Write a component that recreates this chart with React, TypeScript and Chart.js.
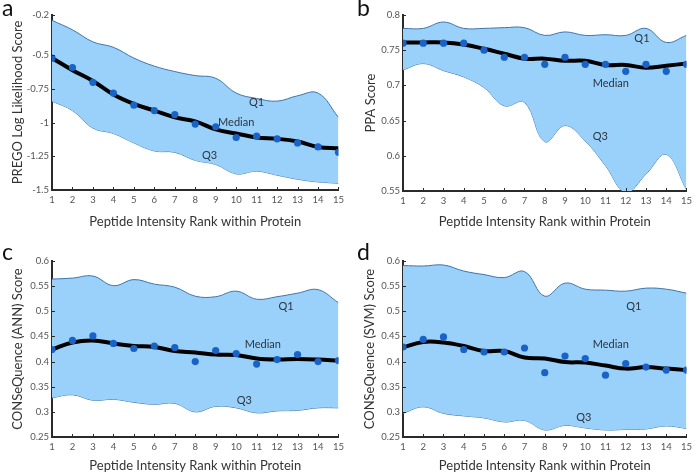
import React, { useEffect, useRef } from "react";
import { Chart, registerables } from "chart.js";
Chart.register(...registerables);

const ranks = [1, 2, 3, 4, 5, 6, 7, 8, 9, 10, 11, 12, 13, 14, 15];

// Panel a: PREGO
const pregoQ1 = [-0.24, -0.31, -0.4, -0.44, -0.52, -0.58, -0.62, -0.65, -0.67, -0.78, -0.82, -0.84, -0.8, -0.78, -0.96];
const pregoQ3 = [-0.84, -0.91, -1.04, -1.08, -1.15, -1.21, -1.22, -1.28, -1.31, -1.38, -1.36, -1.39, -1.42, -1.44, -1.45];
const pregoMedianFit = [-0.52, -0.61, -0.69, -0.79, -0.86, -0.91, -0.96, -0.99, -1.05, -1.08, -1.11, -1.12, -1.14, -1.18, -1.19];
const pregoMedian = [-0.52, -0.59, -0.7, -0.78, -0.87, -0.91, -0.94, -1.01, -1.03, -1.11, -1.1, -1.12, -1.15, -1.18, -1.22];
const pregoTicks = [-0.2, -0.5, -0.75, -1, -1.25, -1.5];

// Panel b: PPA
const ppaQ1 = [0.781, 0.781, 0.79, 0.781, 0.781, 0.782, 0.782, 0.771, 0.776, 0.771, 0.772, 0.771, 0.781, 0.761, 0.771];
const ppaQ3 = [0.722, 0.731, 0.721, 0.712, 0.697, 0.671, 0.676, 0.62, 0.643, 0.621, 0.586, 0.548, 0.574, 0.602, 0.552];
const ppaMedianFit = [0.761, 0.761, 0.761, 0.758, 0.752, 0.745, 0.738, 0.738, 0.735, 0.735, 0.729, 0.729, 0.725, 0.728, 0.731];
const ppaMedian = [0.76, 0.76, 0.76, 0.76, 0.75, 0.74, 0.74, 0.73, 0.74, 0.73, 0.73, 0.72, 0.73, 0.72, 0.73];
const ppaTicks = [0.55, 0.6, 0.65, 0.7, 0.75, 0.8];

// Panel c: CONSeQuence (ANN)
const annQ1 = [0.564, 0.566, 0.57, 0.551, 0.563, 0.554, 0.548, 0.53, 0.529, 0.54, 0.524, 0.529, 0.536, 0.543, 0.517];
const annQ3 = [0.328, 0.334, 0.323, 0.325, 0.319, 0.315, 0.317, 0.3, 0.311, 0.308, 0.298, 0.302, 0.303, 0.308, 0.308];
const annMedianFit = [0.424, 0.438, 0.442, 0.436, 0.431, 0.429, 0.421, 0.418, 0.414, 0.413, 0.406, 0.404, 0.405, 0.404, 0.402];
const annMedian = [0.424, 0.442, 0.451, 0.436, 0.426, 0.431, 0.428, 0.4, 0.422, 0.416, 0.395, 0.404, 0.414, 0.4, 0.402];
const consTicks = [0.25, 0.3, 0.35, 0.4, 0.45, 0.5, 0.55, 0.6];

// Panel d: CONSeQuence (SVM)
const svmQ1 = [0.591, 0.59, 0.592, 0.58, 0.573, 0.567, 0.579, 0.53, 0.556, 0.544, 0.542, 0.54, 0.546, 0.544, 0.536];
const svmQ3 = [0.297, 0.31, 0.297, 0.292, 0.288, 0.28, 0.283, 0.264, 0.273, 0.268, 0.264, 0.265, 0.266, 0.272, 0.267];
const svmMedianFit = [0.428, 0.439, 0.438, 0.431, 0.421, 0.421, 0.408, 0.406, 0.399, 0.398, 0.392, 0.386, 0.389, 0.386, 0.383];
const svmMedian = [0.429, 0.444, 0.449, 0.424, 0.419, 0.419, 0.427, 0.378, 0.411, 0.406, 0.373, 0.396, 0.389, 0.383, 0.383];

const FONT = "Lato, 'Open Sans', sans-serif";
const BAND_FILL = "#99d1fa";
const BAND_LINE = "#3f75aa";
const DOT = "#1a63c6";

const toPts = (ys: number[]) => ranks.map((x, i) => ({ x, y: ys[i] }));

const labelPlugin = {
  id: "bandLabels",
  afterDatasetsDraw(chart: any, _args: any, opts: any) {
    const { ctx, scales } = chart;
    ctx.save();
    ctx.font = `11px ${FONT}`;
    ctx.fillStyle = "#2b3440";
    ctx.textAlign = "center";
    ctx.textBaseline = "middle";
    (opts.items || []).forEach((it: any) => {
      ctx.fillText(it.text, scales.x.getPixelForValue(it.x), scales.y.getPixelForValue(it.y));
    });
    ctx.restore();
  },
};

const innerTicks = {
  id: "innerTicks",
  afterDraw(chart: any) {
    const { ctx, scales, chartArea } = chart;
    ctx.save();
    ctx.strokeStyle = "#2a2a2a";
    ctx.lineWidth = 1;
    ctx.beginPath();
    scales.x.ticks.forEach((t: any) => {
      const px = Math.round(scales.x.getPixelForValue(t.value)) + 0.5;
      ctx.moveTo(px, chartArea.bottom);
      ctx.lineTo(px, chartArea.bottom - 3);
    });
    scales.y.ticks.forEach((t: any) => {
      const py = Math.round(scales.y.getPixelForValue(t.value)) + 0.5;
      ctx.moveTo(chartArea.left, py);
      ctx.lineTo(chartArea.left + 3, py);
    });
    ctx.stroke();
    ctx.restore();
  },
};

type PanelDef = {
  letter: string;
  left: number;
  top: number;
  width: number;
  height: number;
  padTop: number;
  padRight: number;
  yWidth: number;
  xHeight: number;
  yTitlePad: number;
  xTitlePad: number;
  yMin: number;
  yMax: number;
  yTicks: number[];
  yTitle: string;
  q1: number[];
  q3: number[];
  medFit: number[];
  med: number[];
  labels: { text: string; x: number; y: number }[];
};

const panels: PanelDef[] = [
  {
    letter: "a", left: 0, top: 0, width: 348, height: 236, padTop: 15, padRight: 8, yWidth: 52, xHeight: 46,
    yTitlePad: 10, xTitlePad: 6, yMin: -1.5, yMax: -0.2, yTicks: pregoTicks, yTitle: "PREGO Log Likelihood Score",
    q1: pregoQ1, q3: pregoQ3, medFit: pregoMedianFit, med: pregoMedian,
    labels: [
      { text: "Q1", x: 11, y: -0.85 },
      { text: "Median", x: 10, y: -1.0 },
      { text: "Q3", x: 8.7, y: -1.24 },
    ],
  },
  {
    letter: "b", left: 348, top: 0, width: 348, height: 236, padTop: 15, padRight: 4, yWidth: 55, xHeight: 45,
    yTitlePad: 15, xTitlePad: 6, yMin: 0.55, yMax: 0.8, yTicks: ppaTicks, yTitle: "PPA Score",
    q1: ppaQ1, q3: ppaQ3, medFit: ppaMedianFit, med: ppaMedian,
    labels: [
      { text: "Q1", x: 12.8, y: 0.767 },
      { text: "Median", x: 11.26, y: 0.703 },
      { text: "Q3", x: 10.74, y: 0.628 },
    ],
  },
  {
    letter: "c", left: 0, top: 236, width: 348, height: 245, padTop: 25, padRight: 8, yWidth: 52, xHeight: 44,
    yTitlePad: 10, xTitlePad: 7, yMin: 0.25, yMax: 0.6, yTicks: consTicks, yTitle: "CONSeQuence (ANN) Score",
    q1: annQ1, q3: annQ3, medFit: annMedianFit, med: annMedian,
    labels: [
      { text: "Q1", x: 12.44, y: 0.509 },
      { text: "Median", x: 11.3, y: 0.434 },
      { text: "Q3", x: 10.4, y: 0.323 },
    ],
  },
  {
    letter: "d", left: 348, top: 236, width: 348, height: 245, padTop: 25, padRight: 4, yWidth: 55, xHeight: 44,
    yTitlePad: 14, xTitlePad: 7, yMin: 0.25, yMax: 0.6, yTicks: consTicks, yTitle: "CONSeQuence (SVM) Score",
    q1: svmQ1, q3: svmQ3, medFit: svmMedianFit, med: svmMedian,
    labels: [
      { text: "Q1", x: 12.4, y: 0.509 },
      { text: "Median", x: 11.26, y: 0.434 },
      { text: "Q3", x: 9.93, y: 0.288 },
    ],
  },
];

function Panel({ p }: { p: PanelDef }) {
  const ref = useRef<HTMLCanvasElement>(null);
  useEffect(() => {
    if (!ref.current) return;
    const chart = new Chart(ref.current, {
      type: "line",
      data: {
        datasets: [
          {
            label: "Q1",
            data: toPts(p.q1),
            borderColor: BAND_LINE,
            borderWidth: 1,
            backgroundColor: BAND_FILL,
            fill: "+1",
            pointRadius: 0,
            tension: 0.4,
            order: 3,
          },
          {
            label: "Q3",
            data: toPts(p.q3),
            borderColor: BAND_LINE,
            borderWidth: 1,
            fill: false,
            pointRadius: 0,
            tension: 0.4,
            order: 3,
          },
          {
            label: "Median fit",
            data: toPts(p.medFit),
            borderColor: "#000000",
            borderWidth: 4,
            fill: false,
            pointRadius: 0,
            tension: 0.4,
            order: 2,
          },
          {
            label: "Median",
            data: toPts(p.med),
            showLine: false,
            pointRadius: 3.6,
            pointBackgroundColor: DOT,
            pointBorderWidth: 0,
            borderColor: DOT,
            order: 1,
          },
        ] as any,
      },
      options: {
        responsive: false,
        animation: false,
        devicePixelRatio: 1,
        layout: { padding: { top: p.padTop, right: p.padRight, left: 0, bottom: 0 } },
        plugins: {
          legend: { display: false },
          tooltip: { enabled: false },
          bandLabels: { items: p.labels },
        } as any,
        scales: {
          x: {
            type: "linear",
            min: 1,
            max: 15,
            afterFit: (s: any) => { s.height = p.xHeight; },
            grid: { display: false, drawTicks: false },
            border: { display: true, color: "#2a2a2a", width: 2 },
            ticks: { stepSize: 1, font: { family: FONT, size: 9.5 }, color: "#555", padding: 4, maxRotation: 0, autoSkip: false },
            title: { display: true, text: "Peptide Intensity Rank within Protein", font: { family: FONT, size: 13 }, color: "#333", padding: { top: 0, bottom: p.xTitlePad } },
          },
          y: {
            type: "linear",
            min: p.yMin,
            max: p.yMax,
            afterFit: (s: any) => { s.width = p.yWidth; },
            afterBuildTicks: (s: any) => { s.ticks = p.yTicks.map((v) => ({ value: v })); },
            grid: { display: false, drawTicks: false },
            border: { display: true, color: "#2a2a2a", width: 2 },
            ticks: { font: { family: FONT, size: 9.5 }, color: "#555", padding: 3, callback: (v: any) => String(Number(v)) },
            title: { display: true, text: p.yTitle, font: { family: FONT, size: 13 }, color: "#333", padding: { top: p.yTitlePad, bottom: 0 } },
          },
        },
      } as any,
      plugins: [labelPlugin, innerTicks],
    });
    return () => chart.destroy();
  }, [p]);
  return (
    <div style={{ position: "absolute", left: p.left, top: p.top, width: p.width, height: p.height }}>
      <canvas ref={ref} width={p.width} height={p.height} style={{ display: "block" }} />
      <div style={{ position: "absolute", left: p.left === 0 ? 2 : 9, top: p.top === 0 ? -4 : 4, fontFamily: FONT, fontSize: 23, lineHeight: "23px", color: "#111" }}>
        {p.letter}
      </div>
    </div>
  );
}

export default function App() {
  return (
    <div style={{ position: "fixed", left: 0, top: 0, width: 696, height: 473, background: "#fff", overflow: "hidden" }}>
      {panels.map((p) => (
        <Panel key={p.letter} p={p} />
      ))}
    </div>
  );
}
